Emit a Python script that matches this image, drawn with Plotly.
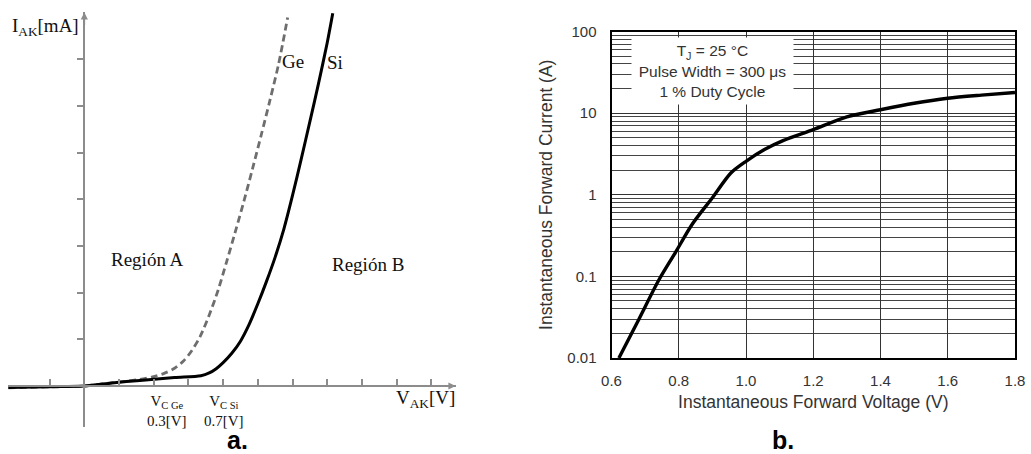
import plotly.graph_objects as go

# ---------------- Panel a: schematic diode curves (axis units = tick marks) ----------------
si_v = [-2.19, -1.0, 0.0, 0.8, 1.6, 2.6, 3.36, 3.6, 3.8, 4.0, 4.25, 4.5, 4.75, 5.0, 5.25, 5.5, 5.75, 6.0, 6.25, 6.5, 6.75, 7.0, 7.16]
si_i = [-0.03, -0.015, 0.0, 0.065, 0.12, 0.18, 0.22, 0.28, 0.37, 0.50, 0.70, 0.96, 1.32, 1.76, 2.24, 2.76, 3.36, 4.08, 4.86, 5.66, 6.48, 7.35, 7.98]

ge_v = [-2.19, -1.0, 0.0, 0.8, 1.6, 2.0, 2.3, 2.6, 2.85, 3.1, 3.35, 3.6, 3.85, 4.1, 4.35, 4.6, 4.85, 5.1, 5.35, 5.6, 5.86]
ge_i = [-0.04, -0.02, 0.0, 0.07, 0.14, 0.20, 0.27, 0.38, 0.53, 0.76, 1.08, 1.52, 2.04, 2.66, 3.30, 3.96, 4.66, 5.38, 6.12, 6.90, 7.89]

a_xticks = [-1, 1, 2, 3, 4, 5, 6, 7, 8, 9, 10]
a_yticks = [1, 2, 3, 4, 5, 6, 7]

# ---------------- Panel b: forward characteristic ----------------
vf = [0.622, 0.68, 0.74, 0.79, 0.84, 0.90, 0.955, 1.0, 1.055, 1.11, 1.2, 1.3, 1.4, 1.5, 1.6, 1.7, 1.8]
if_ = [0.01, 0.029, 0.089, 0.196, 0.435, 0.92, 1.85, 2.57, 3.58, 4.6, 6.28, 9.0, 11.0, 13.2, 15.2, 16.6, 17.9]

b_ytickvals = [0.01, 0.1, 1, 10, 100]
b_yticktext = ["0.01", "0.1", "1", "10", "100"]
b_minor = [k * 10.0 ** d for d in range(-2, 2) for k in range(2, 10)]

W, H = 1031, 454

# panel a geometry
XA0, XA1 = -2.2, 10.7
YA0, YA1 = -0.88, 8.0
xa_dom = [8 / W, 455.6 / W]
ya_dom = [1 - 427.1 / H, 1 - 12.4 / H]
x0_paper = xa_dom[0] + (0 - XA0) / (XA1 - XA0) * (xa_dom[1] - xa_dom[0])
y0_paper = ya_dom[0] + (0 - YA0) / (YA1 - YA0) * (ya_dom[1] - ya_dom[0])

AXC = "#8c8c8c"
SERIF = "Liberation Serif"
SANS = "Liberation Sans"

fig = go.Figure()
fig.add_trace(go.Scatter(x=ge_v, y=ge_i, mode="lines", line=dict(color="#6e6e6e", width=2.8, dash="7px,4px", shape="spline", smoothing=0.8),
                         xaxis="x", yaxis="y", showlegend=False, hoverinfo="skip"))
fig.add_trace(go.Scatter(x=si_v, y=si_i, mode="lines", line=dict(color="#000000", width=3, shape="spline", smoothing=0.8),
                         xaxis="x", yaxis="y", showlegend=False, hoverinfo="skip"))
fig.add_trace(go.Scatter(x=vf, y=if_, mode="lines", line=dict(color="#000000", width=3.4, shape="spline", smoothing=0.8),
                         xaxis="x2", yaxis="y2", showlegend=False, hoverinfo="skip"))

fig.update_layout(
    width=W, height=H, margin=dict(l=0, r=0, t=0, b=0, autoexpand=False),
    paper_bgcolor="white", plot_bgcolor="white",
    xaxis=dict(domain=xa_dom, range=[XA0, XA1], anchor="free", position=y0_paper, automargin=False,
               showline=True, linecolor=AXC, linewidth=2, zeroline=False, showgrid=False,
               ticks="inside", ticklen=6, tickwidth=1.5, tickcolor=AXC, tickvals=a_xticks,
               showticklabels=False, fixedrange=True),
    yaxis=dict(domain=ya_dom, range=[YA0, YA1], anchor="free", position=x0_paper, automargin=False,
               showline=True, linecolor=AXC, linewidth=2, zeroline=False, showgrid=False,
               ticks="outside", ticklen=6, tickwidth=1.5, tickcolor=AXC, tickvals=a_yticks,
               showticklabels=False, fixedrange=True),
    xaxis2=dict(domain=[611.5 / W, 1015 / W], range=[0.6, 1.8], anchor="y2", tick0=0.6, dtick=0.2, automargin=False,
                tickformat=".1f", showgrid=True, gridcolor="#333333", gridwidth=1,
                showline=True, mirror=True, linecolor="black", linewidth=2, zeroline=False,
                ticks="", ticklabelstandoff=8,
                tickfont=dict(family=SANS, size=15, color="#333333"),
                title=dict(text="Instantaneous Forward Voltage (V)", standoff=8,
                           font=dict(family=SANS, size=17.5, color="#333333"))),
    yaxis2=dict(domain=[1 - 358 / H, 1 - 31.5 / H], type="log", range=[-2, 2], anchor="x2", automargin=False,
                tickvals=b_ytickvals, ticktext=b_yticktext,
                showgrid=True, gridcolor="#333333", gridwidth=1,
                minor=dict(tickvals=b_minor, showgrid=True, gridcolor="#444444", gridwidth=1, ticks=""),
                showline=True, mirror=True, linecolor="black", linewidth=2, zeroline=False,
                ticks="", ticklabelstandoff=10,
                tickfont=dict(family=SANS, size=15, color="#333333"),
                title=dict(text="Instantaneous Forward Current (A)", standoff=10,
                           font=dict(family=SANS, size=17.5, color="#333333"))),
)

ann = []
# axis arrowheads (panel a)
ann.append(dict(x=XA1, y=0, xref="x", yref="y", ax=-14, ay=0, text="", showarrow=True,
                arrowhead=2, arrowsize=0.9, arrowwidth=1.6, arrowcolor=AXC))
ann.append(dict(x=0, y=YA1, xref="x", yref="y", ax=0, ay=14, text="", showarrow=True,
                arrowhead=2, arrowsize=0.9, arrowwidth=1.6, arrowcolor=AXC))

def tx(text, x, y, size=19, xanchor="center", yanchor="middle", family=SERIF, ref=("x", "y"), color="#111111"):
    ann.append(dict(text=text, x=x, y=y, xref=ref[0], yref=ref[1], showarrow=False,
                    xanchor=xanchor, yanchor=yanchor, font=dict(family=family, size=size, color=color)))

tx("I<sub>AK</sub>[mA]", -1.12, 7.69)
tx("Ge", 6.02, 6.94)
tx("Si", 7.23, 6.92)
tx("Región A", 1.82, 2.70)
tx("Región B", 8.18, 2.61)
tx("V<sub>C Ge</sub><br>0.3[V]", 2.39, -0.53, size=15)
tx("V<sub>C Si</sub><br>0.7[V]", 4.03, -0.53, size=15)
tx("V<sub>AK</sub>[V]", 9.83, -0.28)

tx("<b>a.</b>", 237 / W, 1 - 440 / H, size=25, family=SANS, ref=("paper", "paper"), color="black")
tx("<b>b.</b>", 783 / W, 1 - 440 / H, size=25, family=SANS, ref=("paper", "paper"), color="black")

ann.append(dict(text="T<sub>J</sub> = 25 °C<br>Pulse Width = 300 μs<br>1 % Duty Cycle",
                x=712.5 / W, y=1 - 70.5 / H, xref="paper", yref="paper", showarrow=False,
                xanchor="center", yanchor="middle", width=161, height=66, bgcolor="white", borderpad=0,
                align="center", font=dict(family=SANS, size=15.5, color="#333333")))

fig.update_layout(annotations=ann)
fig.write_html("out.html", config={"displayModeBar": False},
               post_script="document.body.style.margin='0';document.body.style.padding='0';")
